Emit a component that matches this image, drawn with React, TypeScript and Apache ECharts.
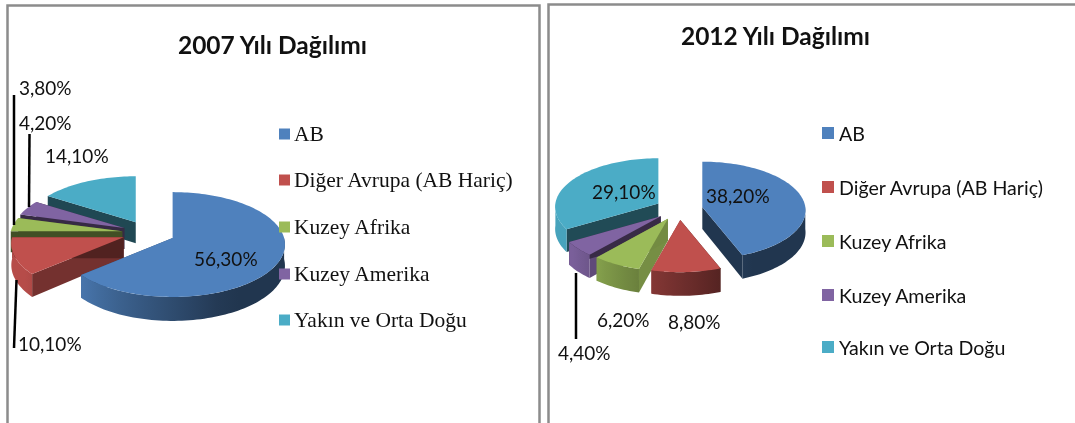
import React, { useEffect, useRef } from "react";
import * as echarts from "echarts";

const categories = ["AB", "Diğer Avrupa (AB Hariç)", "Kuzey Afrika", "Kuzey Amerika", "Yakın ve Orta Doğu"];
const values2007 = [56.3, 10.1, 3.8, 4.2, 14.1];
const values2012 = [38.2, 8.8, 6.2, 4.4, 29.1];
const titles = ["2007 Yılı Dağılımı", "2012 Yılı Dağılımı"];

const topColors = ["#4f81bd", "#c0504d", "#9bbb59", "#8064a2", "#4bacc6"];

const pies = [
  { values: values2007, cx: 148.5, cy: 233, R: 111.5, q: 0.463, k: 0.123, E: 26.5, h: 21 },
  { values: values2012, cx: 679, cy: 209, R: 103, q: 0.47, k: 0.07, E: 23.7, h: 22 },
];

const fmt = (v: number) => v.toFixed(2).replace(".", ",") + "%";

function rimPoint(p: any, ax: number, ay: number, t: number, lower: boolean) {
  const s = 1 / (1 + p.k * Math.cos(t));
  const x = ax + p.R * Math.sin(t) * s;
  const y = ay - p.R * p.q * Math.cos(t) * s;
  return [x, lower ? y + p.h * s : y];
}
const pt = (c: number[]) => `${c[0].toFixed(2)} ${c[1].toFixed(2)}`;
function arcPts(p: any, ax: number, ay: number, a0: number, a1: number, lower: boolean) {
  const n = Math.max(2, Math.ceil(Math.abs(a1 - a0) / 0.03));
  const out: number[][] = [];
  for (let i = 0; i <= n; i++) out.push(rimPoint(p, ax, ay, a0 + ((a1 - a0) * i) / n, lower));
  return out;
}
const poly = (pts: number[][]) => "M" + pts.map(pt).join("L") + "Z";

function shade(hex: string, f: number) {
  const n = parseInt(hex.slice(1), 16);
  const c = [(n >> 16) & 255, (n >> 8) & 255, n & 255].map((v) => Math.round(v * f));
  return `rgb(${c[0]},${c[1]},${c[2]})`;
}
const deg = (t: number) => (t * 180) / Math.PI;
// Outer wall lighting: bright towards lower left, dark towards the right.
function lightAt(t: number) {
  return Math.max(0.42, Math.min(0.95, 0.42 + ((deg(t) - 155) / 80) * 0.53));
}
// Cut-face lighting: faces turned towards the viewer are lit, others are dark.
function faceLight(t: number) {
  const d = deg(t);
  if (d < 180) return 0.42;
  return Math.max(0.42, Math.min(0.76, 0.76 - ((d - 220) / 20) * 0.34));
}

function slices(p: any) {
  const total = p.values.reduce((a: number, b: number) => a + b, 0);
  let acc = 0;
  return p.values.map((v: number, i: number) => {
    const a0 = (acc / total) * Math.PI * 2;
    acc += v;
    const a1 = (acc / total) * Math.PI * 2;
    const mid = (a0 + a1) / 2;
    return { i, a0, a1, mid, ax: p.cx + p.E * Math.sin(mid), ay: p.cy - p.E * p.q * Math.cos(mid) };
  });
}

function renderPie(p: any) {
  const list = slices(p).slice().sort((a: any, b: any) => -Math.cos(a.mid) + Math.cos(b.mid));
  const children: any[] = [];
  for (const s of list) {
    const { ax, ay, a0, a1, i } = s;
    for (const t of [a0, a1]) {
      const r = rimPoint(p, ax, ay, t, false);
      const rl = rimPoint(p, ax, ay, t, true);
      children.push({
        type: "path",
        shape: { pathData: poly([[ax, ay], r, rl, [ax, ay + p.h]]) },
        style: { fill: shade(topColors[i], faceLight(t)) },
      });
    }
    const f0 = Math.max(a0, Math.PI / 2);
    const f1 = Math.min(a1, (Math.PI * 3) / 2);
    if (f1 > f0) {
      const upper = arcPts(p, ax, ay, f0, f1, false);
      const lower = arcPts(p, ax, ay, f1, f0, true);
      const xs = upper.map((c) => c[0]);
      const xMin = Math.min(...xs);
      const xMax = Math.max(...xs);
      const stops: any[] = [];
      const steps = 12;
      for (let j = 0; j <= steps; j++) {
        const t = f1 + ((f0 - f1) * j) / steps;
        const off = (rimPoint(p, ax, ay, t, false)[0] - xMin) / Math.max(1, xMax - xMin);
        stops.push({ offset: Math.max(0, Math.min(1, off)), color: shade(topColors[i], lightAt(t)) });
      }
      stops.sort((a, b) => a.offset - b.offset);
      children.push({
        type: "path",
        shape: { pathData: poly(upper.concat(lower)) },
        style: { fill: new echarts.graphic.LinearGradient(0, 0, 1, 0, stops) },
      });
    }
    const top = arcPts(p, ax, ay, a0, a1, false);
    children.push({
      type: "path",
      shape: { pathData: poly([[ax, ay], ...top]) },
      style: { fill: topColors[i] },
    });
  }
  return { type: "group", children };
}

const cal = "Lato, 'Open Sans', sans-serif";
const serif = "'Liberation Serif', serif";
const frameColor = "#8c8c8c";

function txt(x: number, y: number, text: string, font: string, size: number, extra: any = {}) {
  return {
    type: "text",
    x,
    y,
    z: 10,
    silent: true,
    style: {
      text,
      fontFamily: font,
      fontSize: size,
      fontWeight: extra.weight || "normal",
      fill: "#111",
      align: extra.align || "left",
      verticalAlign: "middle",
    },
  };
}
function seg(x1: number, y1: number, x2: number, y2: number) {
  return { type: "line", z: 10, shape: { x1, y1, x2, y2 }, style: { stroke: "#000", lineWidth: 2.5 } };
}

const labelPos2007 = [[194, 258], [18, 343], [19, 87], [19, 122], [45, 155]];
const labelPos2012 = [[706, 195], [668, 321], [597, 319], [558, 352], [592, 191]];
const legendY2007 = [134, 180, 227, 274, 320];
const legendY2012 = [133, 187, 241, 295, 347];

export default function App() {
  const ref = useRef<HTMLDivElement>(null);
  useEffect(() => {
    const chart = echarts.init(ref.current!, undefined, { renderer: "svg" });
    const elements: any[] = [
      { type: "rect", z: 0, shape: { x: 7.5, y: 5.5, width: 532, height: 430 }, style: { fill: "#fff", stroke: frameColor, lineWidth: 2.5 } },
      { type: "rect", z: 0, shape: { x: 548.5, y: 4.5, width: 530, height: 430 }, style: { fill: "#fff", stroke: frameColor, lineWidth: 2.5 } },
      txt(272.5, 44, titles[0], cal, 24.5, { weight: "bold", align: "center" }),
      txt(775.5, 35, titles[1], cal, 24.5, { weight: "bold", align: "center" }),
      seg(14, 95, 14, 225),
      seg(29.5, 134, 29, 207),
      seg(16.5, 280, 14, 348),
      seg(576, 273, 576, 339),
    ];
    values2007.forEach((v, i) => elements.push(txt(labelPos2007[i][0], labelPos2007[i][1], fmt(v), cal, 19)));
    values2012.forEach((v, i) => elements.push(txt(labelPos2012[i][0], labelPos2012[i][1], fmt(v), cal, 19)));
    categories.forEach((c, i) => {
      elements.push({ type: "rect", z: 10, shape: { x: 279, y: legendY2007[i] - 5.5, width: 11, height: 11 }, style: { fill: topColors[i] } });
      elements.push(txt(294, legendY2007[i], c, serif, 21.5));
      elements.push({ type: "rect", z: 10, shape: { x: 822, y: legendY2012[i] - 6, width: 12, height: 12 }, style: { fill: topColors[i] } });
      elements.push(txt(839, legendY2012[i], c, cal, 19.6));
    });
    chart.setOption({
      animation: false,
      graphic: { elements },
      series: pies.map((p) => ({
        type: "custom",
        coordinateSystem: "none",
        silent: true,
        z: 5,
        data: [0],
        renderItem: () => renderPie(p),
      })),
    });
    return () => chart.dispose();
  }, []);
  return <div ref={ref} style={{ position: "fixed", left: 0, top: 0, width: 1075, height: 423 }} />;
}
